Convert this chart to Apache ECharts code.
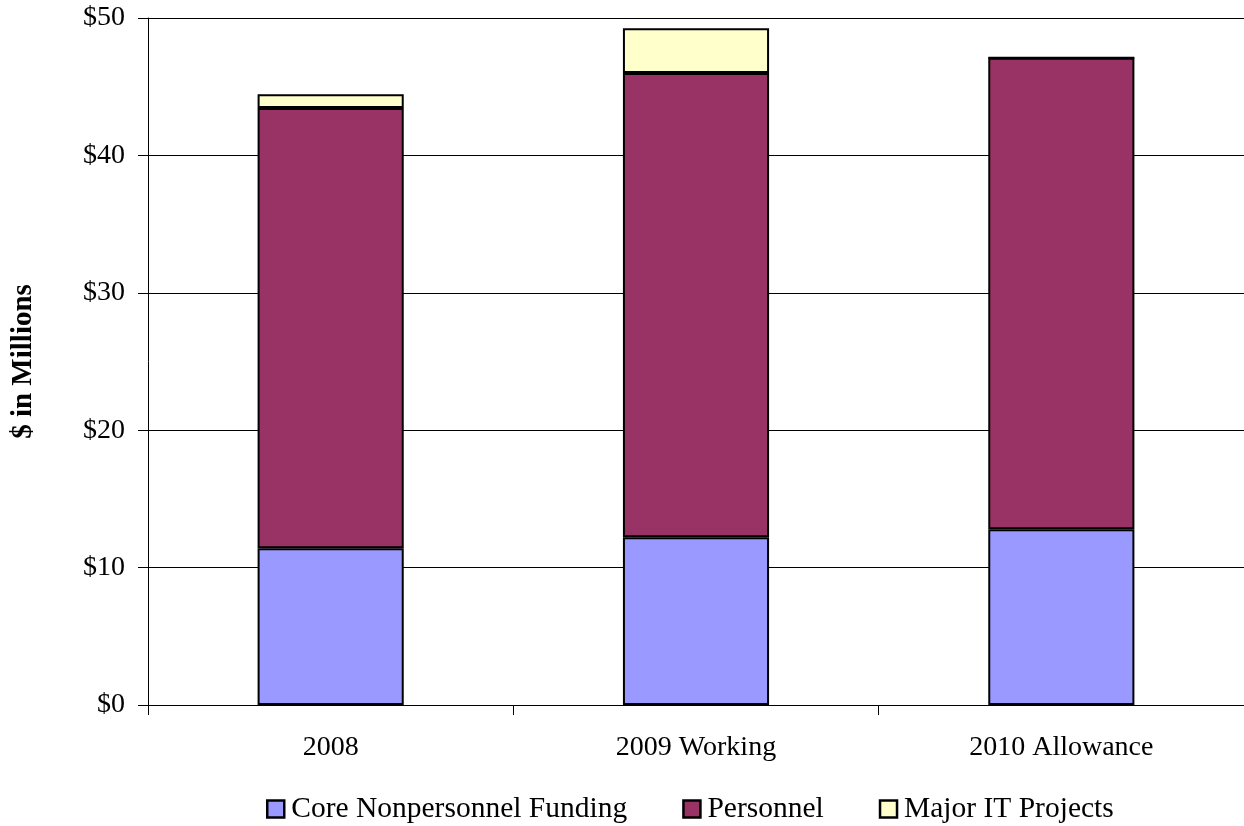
<!DOCTYPE html>
<html>
<head>
<meta charset="utf-8">
<script src="https://cdn.jsdelivr.net/npm/echarts@6/dist/echarts.min.js"></script>
<style>
  html, body { margin: 0; padding: 0; background: #fff; }
  #chart { width: 1244px; height: 826px; }
</style>
</head>
<body>
<div id="chart"></div>
<script>
// Budget categories (fiscal years)
const categories = ['2008', '2009 Working', '2010 Allowance'];
// $ in millions per funding component
const coreNonpersonnel = [11.4, 12.2, 12.8];
const personnel = [32.05, 33.8, 34.3];
const majorIT = [1.0, 3.25, 0];
// Axis settings
const yMin = 0, yMax = 50, yStep = 10;

const chart = echarts.init(document.getElementById('chart'));
const font = 'Liberation Serif, Times New Roman, serif';

const barStyle = (color) => ({ color: color, borderColor: '#000', borderWidth: 2 });

chart.setOption({
  animation: false,
  textStyle: { fontFamily: font },
  grid: { left: 148, top: 18, width: 1098, height: 687, containLabel: false },
  legend: {
    top: 789,
    left: 261,
    icon: 'rect',
    itemWidth: 17,
    itemHeight: 17,
    itemGap: 55,
    itemStyle: { borderColor: '#000', borderWidth: 2.5 },
    textStyle: { fontFamily: font, fontSize: 29.5, color: '#000', padding: [0, 0, 0, 2] },
    data: ['Core Nonpersonnel Funding', 'Personnel', 'Major IT Projects']
  },
  xAxis: {
    type: 'category',
    data: categories,
    axisLine: { lineStyle: { color: '#000', width: 1 } },
    axisTick: { show: true, length: 10, lineStyle: { color: '#000' } },
    axisLabel: { fontFamily: font, fontSize: 28, color: '#000', margin: 29 }
  },
  yAxis: {
    type: 'value',
    min: yMin, max: yMax, interval: yStep,
    name: '$ in Millions',
    nameLocation: 'middle',
    nameGap: 110,
    nameTextStyle: { fontFamily: font, fontSize: 29, fontWeight: 'bold', color: '#000' },
    axisLine: { show: true, lineStyle: { color: '#000', width: 1 } },
    axisTick: { show: true, length: 10, lineStyle: { color: '#000' } },
    axisLabel: { fontFamily: font, fontSize: 28, color: '#000', margin: 23, formatter: v => '$' + v },
    splitLine: { show: true, lineStyle: { color: '#000', width: 1 } }
  },
  series: [
    { name: 'Core Nonpersonnel Funding', type: 'bar', stack: 'total', barWidth: '40%', data: coreNonpersonnel, itemStyle: barStyle('#9999FF') },
    { name: 'Personnel', type: 'bar', stack: 'total', barWidth: '40%', data: personnel, itemStyle: barStyle('#993366') },
    { name: 'Major IT Projects', type: 'bar', stack: 'total', barWidth: '40%', data: majorIT, itemStyle: barStyle('#FFFFCC') }
  ]
});
</script>
</body>
</html>
